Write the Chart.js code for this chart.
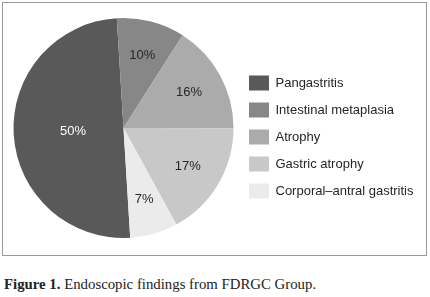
<!DOCTYPE html>
<html>
<head>
<meta charset="utf-8">
<script src="https://cdn.jsdelivr.net/npm/chart.js@4/dist/chart.umd.min.js"></script>
<style>
  html, body { margin: 0; padding: 0; background: #fff; }
  body { width: 430px; height: 297px; position: relative; overflow: hidden; }
  #frame { position: absolute; left: 2px; top: 2px; width: 423px; height: 252px; border: 1px solid #9a9a9a; }
  #wrap { position: absolute; left: 0; top: 0; width: 430px; height: 260px; }
  #caption { position: absolute; left: 4px; top: 276px; font-family: "Liberation Serif", "DejaVu Serif", serif; font-size: 14.8px; color: #222; white-space: nowrap; }
  #caption b { font-weight: bold; }
</style>
</head>
<body>
<div id="frame"></div>
<div id="wrap"><canvas id="pie"></canvas></div>
<div id="caption"><b>Figure 1.</b> Endoscopic findings from FDRGC Group.</div>
<script>
// data
var labels = ['Pangastritis', 'Intestinal metaplasia', 'Atrophy', 'Gastric atrophy', 'Corporal\u2013antral gastritis'];
var values = [50, 10, 16, 17, 7];
var colors = ['#595959', '#878787', '#ababab', '#c8c8c8', '#ebebeb'];
var labelColors = ['#ffffff', '#262626', '#262626', '#262626', '#262626'];
var labelPos = [0.46, 0.68, 0.68, 0.68, 0.68]; // fraction of radius

// percent labels inside slices
var sliceLabels = {
	id: 'sliceLabels',
	afterDatasetsDraw: function(chart){
		var ctx = chart.ctx;
		var meta = chart.getDatasetMeta(0);
		var sum = 0;
		values.forEach(function(v){ sum += v; });
		ctx.save();
		ctx.font = '13px "Liberation Sans", Arial, sans-serif';
		ctx.textAlign = 'center';
		ctx.textBaseline = 'middle';
		meta.data.forEach(function(arc, i){
			var p = arc.getProps(['x', 'y', 'startAngle', 'endAngle', 'outerRadius'], true);
			var mid = (p.startAngle + p.endAngle) / 2;
			var r = p.outerRadius * labelPos[i];
			ctx.fillStyle = labelColors[i];
			ctx.fillText(Math.round(values[i] * 100 / sum) + '%', p.x + Math.cos(mid) * r, p.y + Math.sin(mid) * r);
		});
		ctx.restore();
	}
};

var ctx = document.getElementById('pie').getContext('2d');
var myChart = new Chart(ctx, {
	type: 'pie',
	data: {
		labels: labels,
		datasets: [{
			data: values,
			backgroundColor: colors,
			borderWidth: 0
		}]
	},
	options: {
		responsive: true,
		maintainAspectRatio: false,
		animation: false,
		rotation: 176.5,
		layout: { padding: { left: 10, right: 6.5, top: 18, bottom: 22 } },
		plugins: {
			legend: {
				position: 'right',
				align: 'center',
				title: { display: true, text: '', font: { size: 10 }, padding: { top: 6, bottom: 0 } },
				labels: {
					boxWidth: 20,
					boxHeight: 15,
					padding: 12,
					color: '#262626',
					font: { family: '"Liberation Sans", Arial, sans-serif', size: 13 }
				}
			},
			tooltip: { enabled: false }
		}
	},
	plugins: [sliceLabels]
});
</script>
</body>
</html>
